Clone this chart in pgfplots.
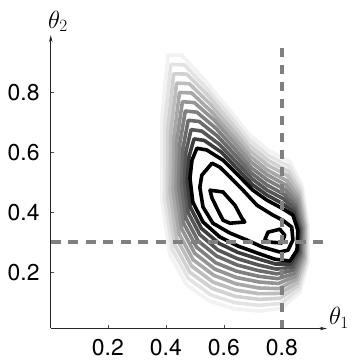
\documentclass[border=0pt]{standalone}
\usepackage{fontspec}
\setmainfont{TeX Gyre Heros}
\usepackage{pgfplots}
\pgfplotsset{compat=1.18}
\usetikzlibrary{arrows.meta}
\tikzset{ct/.style={line width=3.6bp,line join=round,line cap=round}}
\begin{document}
\begin{tikzpicture}
\begin{axis}[
  x=290bp, y=300bp,
  xmin=0.003, xmax=0.955, ymin=0.012, ymax=0.99,
  axis lines=left,
  axis line style={line width=0.9bp, black!85, -{Stealth[length=7bp,width=3.5bp]}},
  xtick={0.2,0.4,0.6,0.8}, ytick={0.2,0.4,0.6,0.8},
  tick align=inside, major tick length=3bp,
  tick style={black!70, line width=0.6bp},
  xticklabel style={inner sep=1bp, yshift=-10bp},
  yticklabel style={inner sep=1bp, xshift=-10bp},
  ticklabel style={font=\fontsize{23}{27}\selectfont},
  /pgf/number format/assume math mode=true,
  clip=false,
]
% outermost contour
\addplot[ct, black!5] coordinates {(0.407,0.923) (0.455,0.923) (0.534,0.840) (0.614,0.747) (0.683,0.663) (0.752,0.607) (0.828,0.567) (0.869,0.490) (0.890,0.357) (0.890,0.233) (0.862,0.133) (0.800,0.080) (0.724,0.070) (0.638,0.077) (0.552,0.103) (0.472,0.157) (0.414,0.257) (0.386,0.440) (0.386,0.707) (0.407,0.923)};
\addplot[ct, black!11] coordinates {(0.417,0.892) (0.464,0.891) (0.540,0.813) (0.618,0.724) (0.685,0.644) (0.752,0.590) (0.825,0.552) (0.866,0.480) (0.887,0.355) (0.886,0.237) (0.859,0.143) (0.798,0.096) (0.723,0.089) (0.639,0.098) (0.555,0.124) (0.478,0.178) (0.422,0.275) (0.396,0.447) (0.396,0.693) (0.417,0.892)};
\addplot[ct, black!18] coordinates {(0.427,0.861) (0.472,0.860) (0.547,0.787) (0.622,0.701) (0.686,0.625) (0.751,0.574) (0.822,0.536) (0.863,0.470) (0.883,0.354) (0.882,0.241) (0.855,0.154) (0.795,0.113) (0.723,0.109) (0.640,0.119) (0.559,0.146) (0.483,0.199) (0.430,0.292) (0.405,0.455) (0.407,0.680) (0.427,0.861)};
\addplot[ct, black!26] coordinates {(0.437,0.830) (0.481,0.828) (0.553,0.760) (0.626,0.678) (0.688,0.606) (0.751,0.557) (0.820,0.521) (0.860,0.460) (0.880,0.352) (0.879,0.245) (0.852,0.164) (0.793,0.129) (0.722,0.128) (0.641,0.140) (0.562,0.167) (0.489,0.220) (0.438,0.310) (0.415,0.462) (0.417,0.667) (0.437,0.830)};
\addplot[ct, black!34] coordinates {(0.447,0.799) (0.489,0.797) (0.559,0.733) (0.630,0.655) (0.690,0.587) (0.750,0.540) (0.817,0.505) (0.857,0.450) (0.876,0.350) (0.875,0.249) (0.848,0.175) (0.790,0.145) (0.721,0.147) (0.642,0.161) (0.566,0.189) (0.494,0.241) (0.446,0.327) (0.425,0.469) (0.428,0.653) (0.447,0.799)};
\addplot[ct, black!42] coordinates {(0.457,0.768) (0.498,0.765) (0.566,0.707) (0.635,0.632) (0.692,0.568) (0.750,0.524) (0.814,0.490) (0.854,0.440) (0.873,0.349) (0.871,0.253) (0.845,0.185) (0.788,0.162) (0.721,0.167) (0.643,0.182) (0.569,0.210) (0.500,0.262) (0.454,0.345) (0.435,0.477) (0.438,0.640) (0.457,0.768)};
\addplot[ct, black!50] coordinates {(0.467,0.737) (0.507,0.733) (0.572,0.680) (0.639,0.609) (0.693,0.549) (0.750,0.507) (0.811,0.475) (0.850,0.430) (0.869,0.347) (0.867,0.257) (0.842,0.195) (0.786,0.178) (0.720,0.186) (0.644,0.203) (0.572,0.231) (0.506,0.283) (0.461,0.363) (0.444,0.484) (0.448,0.627) (0.467,0.737)};
\addplot[ct, black!58] coordinates {(0.477,0.706) (0.515,0.702) (0.578,0.653) (0.643,0.586) (0.695,0.530) (0.749,0.490) (0.808,0.459) (0.847,0.420) (0.866,0.345) (0.863,0.261) (0.838,0.206) (0.783,0.194) (0.719,0.205) (0.645,0.224) (0.576,0.253) (0.511,0.304) (0.469,0.380) (0.454,0.491) (0.459,0.613) (0.477,0.706)};
\addplot[ct, black!66] coordinates {(0.487,0.675) (0.524,0.670) (0.584,0.626) (0.647,0.563) (0.697,0.511) (0.749,0.473) (0.806,0.444) (0.844,0.410) (0.862,0.343) (0.860,0.265) (0.835,0.216) (0.781,0.210) (0.718,0.224) (0.646,0.245) (0.579,0.274) (0.517,0.325) (0.477,0.398) (0.464,0.498) (0.469,0.600) (0.487,0.675)};
\addplot[ct, black!76] coordinates {(0.497,0.644) (0.532,0.639) (0.591,0.600) (0.651,0.540) (0.698,0.492) (0.748,0.457) (0.803,0.428) (0.841,0.400) (0.859,0.342) (0.856,0.269) (0.831,0.227) (0.778,0.227) (0.718,0.244) (0.647,0.266) (0.583,0.296) (0.522,0.346) (0.485,0.415) (0.473,0.506) (0.480,0.586) (0.497,0.644)};
\addplot[ct, black] coordinates {(0.507,0.613) (0.541,0.607) (0.597,0.573) (0.655,0.517) (0.700,0.473) (0.748,0.440) (0.800,0.413) (0.838,0.390) (0.855,0.340) (0.852,0.273) (0.828,0.237) (0.776,0.243) (0.717,0.263) (0.648,0.287) (0.586,0.317) (0.528,0.367) (0.493,0.433) (0.483,0.513) (0.490,0.573) (0.507,0.613)};
\addplot[ct, black] coordinates {(0.559,0.563) (0.524,0.523) (0.517,0.483) (0.528,0.417) (0.562,0.363) (0.621,0.330) (0.679,0.307) (0.734,0.283) (0.793,0.267) (0.821,0.273) (0.838,0.307) (0.834,0.350) (0.803,0.373) (0.769,0.390) (0.714,0.423) (0.666,0.473) (0.621,0.517) (0.586,0.550) (0.559,0.563)};
% innermost
\addplot[ct, black] coordinates {(0.552,0.473) (0.597,0.467) (0.638,0.423) (0.662,0.380) (0.672,0.367) (0.621,0.363) (0.597,0.373) (0.576,0.413) (0.559,0.447) (0.552,0.473)};
\addplot[ct, black] coordinates {(0.741,0.307) (0.752,0.333) (0.793,0.343) (0.810,0.323) (0.800,0.297) (0.759,0.300) (0.741,0.307)};
% true values
\addplot[line width=3.6bp, black!50, dash pattern=on 9bp off 8bp] coordinates {(0.8,0.947) (0.8,0.012)};
\addplot[line width=3.6bp, black!50, dash pattern=on 10bp off 7.5bp] coordinates {(0.003,0.3) (0.955,0.3)};
\node[anchor=south, inner sep=0pt, font=\fontsize{23}{27}\selectfont] at (axis cs:0.028,1.0) {$\theta_2$};
\node[anchor=south west, inner sep=0pt, font=\fontsize{23}{27}\selectfont] at (axis cs:0.962,0.012) {$\theta_1$};
\path (axis cs:-0.172,1.107) rectangle (axis cs:1.048,-0.093);
\end{axis}
\end{tikzpicture}
\end{document}
